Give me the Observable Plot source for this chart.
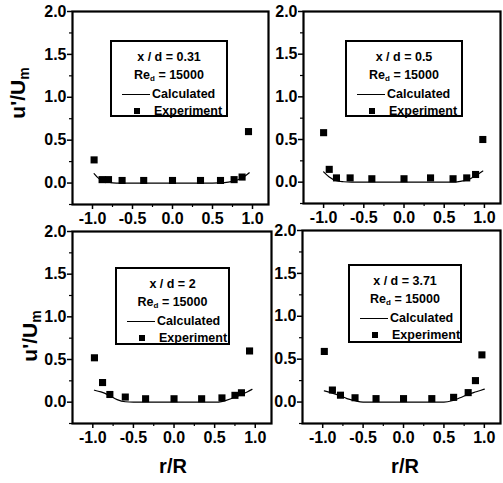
<!DOCTYPE html>
<html><head><meta charset="utf-8">
<script src="https://cdn.jsdelivr.net/npm/d3@7"></script>
<script src="https://cdn.jsdelivr.net/npm/@observablehq/plot@0.6"></script>
<style>
html,body{margin:0;padding:0;background:#fff;overflow:hidden}
#wrap{position:relative;width:503px;height:483px;font-family:"Liberation Sans",Arial,sans-serif;font-weight:bold;color:#000;background:#fff}
.pl{position:absolute}
.leg{position:absolute;box-sizing:border-box;border:2px solid #000;font-size:12.5px;padding:0;background:#fff}
.leg .row{position:absolute;left:0;right:0;height:18px;line-height:18px;white-space:nowrap}
.leg .c{text-align:center}
.leg sub{font-size:8px;line-height:0;vertical-align:-2px}
.leg .ln{position:absolute;left:10px;width:28px;top:9px;border-top:1.3px solid #000}
.leg .mk{position:absolute;left:22px;top:6px;width:6px;height:6px;background:#000}
.leg .t1{position:absolute;left:40px;top:0}
.leg .t2{position:absolute;left:42px;top:0}
.ylab{position:absolute;font-size:21px;white-space:nowrap;transform:translate(-50%,-50%) rotate(-90deg)}
.ylab sub{font-size:14px;line-height:0;vertical-align:-4px}
.xlab{position:absolute;font-size:20px;white-space:nowrap;transform:translate(-50%,-50%)}
</style>
</head><body>
<div id="wrap"></div>
<script>
// ---- data ----
const caseLabels = ["0.31", "0.5", "2", "3.71"];
const reynolds = "15000";
const xTicks = [-1, -0.5, 0, 0.5, 1];
const xMinorTicks = [-0.75, -0.25, 0.25, 0.75];
const yTicks = [0, 0.5, 1, 1.5, 2];
const yMinorTicks = [-0.25, 0.25, 0.75, 1.25, 1.75];
const xDomain = [-1.25, 1.2];
const yDomain = [-0.25, 2];

// x/d = 0.31
const expR031 = [-0.98, -0.88, -0.80, -0.63, -0.36, 0.0, 0.35, 0.60, 0.77, 0.87, 0.95];
const expU031 = [0.27, 0.04, 0.04, 0.03, 0.03, 0.03, 0.03, 0.03, 0.04, 0.07, 0.60];
const calcR031 = [-0.98, -0.93, -0.88, -0.80, -0.70, -0.50, 0.0, 0.50, 0.65, 0.75, 0.85, 0.92, 0.96];
const calcU031 = [0.11, 0.06, 0.03, 0.01, 0.0, 0.0, 0.0, 0.0, 0.005, 0.02, 0.05, 0.09, 0.12];
// x/d = 0.5
const expR05 = [-1.0, -0.93, -0.84, -0.67, -0.40, 0.0, 0.33, 0.61, 0.78, 0.89, 0.98];
const expU05 = [0.58, 0.15, 0.05, 0.05, 0.04, 0.04, 0.05, 0.04, 0.05, 0.09, 0.50];
const calcR05 = [-1.0, -0.93, -0.85, -0.75, -0.65, 0.0, 0.60, 0.70, 0.80, 0.90, 0.98];
const calcU05 = [0.12, 0.06, 0.02, 0.005, 0.0, 0.0, 0.0, 0.01, 0.03, 0.08, 0.13];
// x/d = 2
const expR2 = [-0.98, -0.88, -0.79, -0.60, -0.35, 0.0, 0.34, 0.59, 0.75, 0.83, 0.93];
const expU2 = [0.52, 0.23, 0.09, 0.06, 0.04, 0.04, 0.04, 0.05, 0.08, 0.11, 0.60];
const calcR2 = [-0.98, -0.90, -0.80, -0.70, -0.60, -0.50, 0.50, 0.60, 0.70, 0.80, 0.90, 0.96];
const calcU2 = [0.14, 0.12, 0.08, 0.03, 0.005, 0.0, 0.0, 0.01, 0.04, 0.08, 0.12, 0.15];
// x/d = 3.71
const expR371 = [-0.98, -0.88, -0.78, -0.60, -0.34, 0.0, 0.35, 0.62, 0.80, 0.89, 0.97];
const expU371 = [0.59, 0.14, 0.08, 0.05, 0.04, 0.04, 0.04, 0.055, 0.11, 0.25, 0.55];
const calcR371 = [-0.98, -0.90, -0.80, -0.70, -0.60, -0.50, 0.50, 0.60, 0.70, 0.80, 0.90, 1.0];
const calcU371 = [0.13, 0.11, 0.08, 0.04, 0.015, 0.0, 0.0, 0.015, 0.05, 0.09, 0.12, 0.15];

// ---- layout (pixel frames of each panel) ----
const layout = [
  {left: 72, top: 11, w: 196, h: 193, leg: [110, 40, 118, 77]},
  {left: 303, top: 11, w: 197, h: 192, leg: [345, 40, 118, 77]},
  {left: 72, top: 231, w: 199, h: 192, leg: [115, 267, 115, 78]},
  {left: 302, top: 230, w: 198, h: 193, leg: [348, 264, 114, 79]}
];
const series = [
  [expR031, expU031, calcR031, calcU031],
  [expR05, expU05, calcR05, calcU05],
  [expR2, expU2, calcR2, calcU2],
  [expR371, expU371, calcR371, calcU371]
];

const wrap = document.getElementById("wrap");
const fmt = d => d.toFixed(1);
const ML = 50, MT = 11, MR = 3, MB = 30;

series.forEach(([eR, eU, cR, cU], i) => {
  const L = layout[i];
  const exp = eR.map((r, j) => ({r, u: eU[j]}));
  const calc = cR.map((r, j) => ({r, u: cU[j]}));
  const svg = Plot.plot({
    width: ML + L.w + MR,
    height: MT + L.h + MB,
    marginLeft: ML, marginTop: MT, marginRight: MR, marginBottom: MB,
    x: {domain: xDomain},
    y: {domain: yDomain},
    style: {background: "transparent", overflow: "visible", fontFamily: "'Liberation Sans', Arial, sans-serif", fontSize: "16px", fontWeight: "bold", color: "#000"},
    marks: [
      Plot.line(calc, {x: "r", y: "u", stroke: "#000", strokeWidth: 1.2, curve: "monotone-x"}),
      Plot.dot(exp, {x: "r", y: "u", symbol: "square", r: 4, fill: "#000", stroke: null}),
      Plot.frame({stroke: "#000", strokeWidth: 2.2}),
      Plot.axisX(xTicks, {tickSize: 5, tickPadding: 3, tickFormat: fmt, label: null, strokeWidth: 1.5}),
      Plot.axisX(xMinorTicks, {tickSize: 3, fill: "none", label: null, strokeWidth: 1.2}),
      Plot.axisY(yTicks, {tickSize: 5, tickPadding: 1, tickFormat: fmt, label: null, strokeWidth: 1.5}),
      Plot.axisY(yMinorTicks, {tickSize: 3, fill: "none", label: null, strokeWidth: 1.2})
    ]
  });
  svg.classList.add("pl");
  svg.style.position = "absolute";
  svg.style.left = (L.left - ML) + "px";
  svg.style.top = (L.top - MT) + "px";
  wrap.appendChild(svg);

  const [lx, ly, lw, lh] = L.leg;
  const leg = document.createElement("div");
  leg.className = "leg";
  Object.assign(leg.style, {left: lx + "px", top: ly + "px", width: lw + "px", height: lh + "px"});
  leg.innerHTML =
    `<div class="row c" style="top:6px">x / d = ${caseLabels[i]}</div>` +
    `<div class="row c" style="top:24px">Re<sub>d</sub> = ${reynolds}</div>` +
    `<div class="row" style="top:43px"><span class="ln"></span><span class="t1">Calculated</span></div>` +
    `<div class="row" style="top:60px"><span class="mk"></span><span class="t2">Experiment</span></div>`;
  wrap.appendChild(leg);
});

// axis titles
[[18, 93], [30, 336]].forEach(([x, y]) => {
  const d = document.createElement("div");
  d.className = "ylab";
  d.style.left = x + "px"; d.style.top = y + "px";
  d.innerHTML = "u'/U<sub>m</sub>";
  wrap.appendChild(d);
});
[[173, 466], [405, 466]].forEach(([x, y]) => {
  const d = document.createElement("div");
  d.className = "xlab";
  d.style.left = x + "px"; d.style.top = y + "px";
  d.textContent = "r/R";
  wrap.appendChild(d);
});
</script>
</body></html>
